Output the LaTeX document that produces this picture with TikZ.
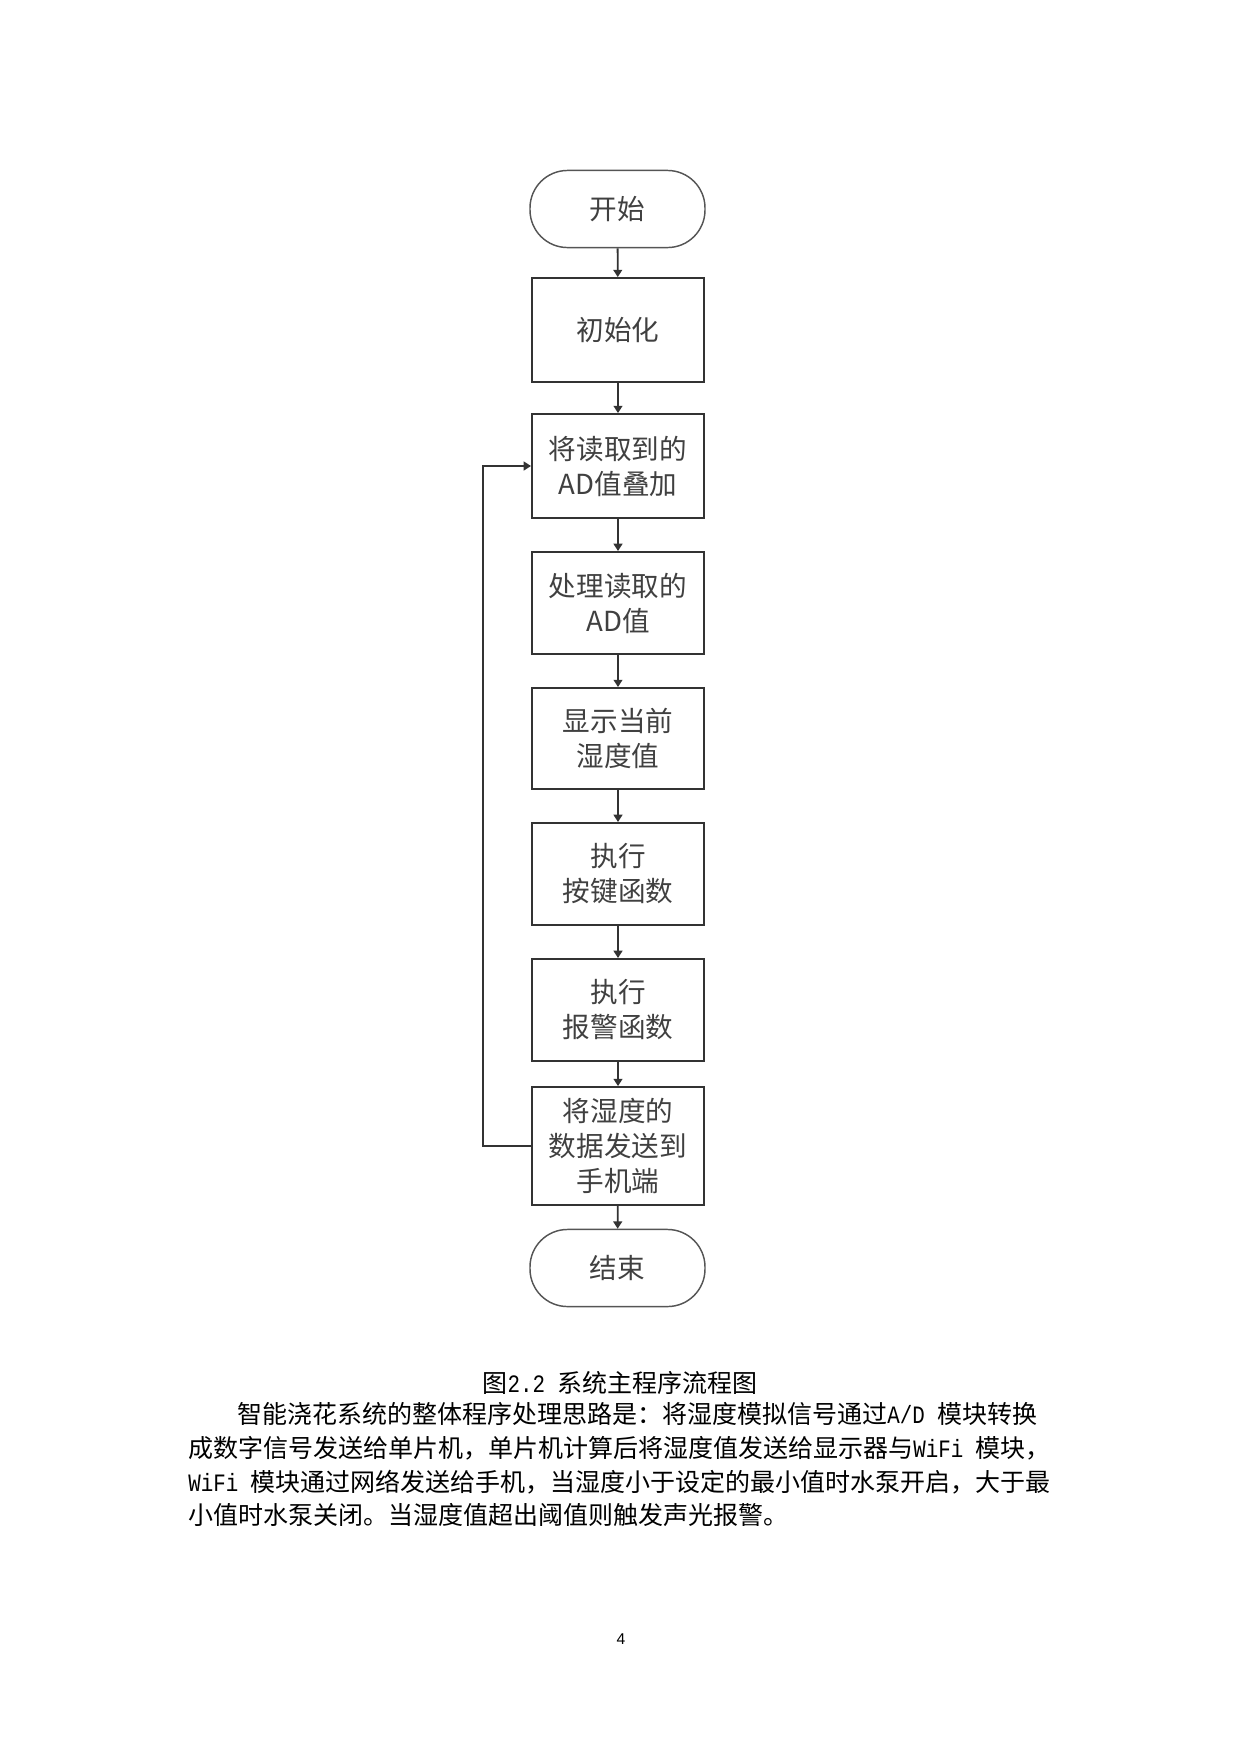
\documentclass[tikz,border=0pt]{standalone}
\usepackage{fontspec}
\setmainfont{Liberation Serif}
\newfontfamily\cjk{Noto Sans CJK SC}
\newfontfamily\lmono[FakeStretch=0.8333]{Liberation Mono}
\newfontfamily\pnum{Liberation Sans}
\usetikzlibrary{arrows.meta}
\definecolor{linec}{HTML}{333333}
\definecolor{termc}{HTML}{555555}
\definecolor{boxtext}{HTML}{404040}
\begin{document}
\begin{tikzpicture}[x=0.48pt,y=-0.48pt,
  box/.style={draw=linec,line width=0.9pt,minimum width=82.6pt,align=center,inner sep=0pt,
    font=\cjk\fontsize{13.25}{16.8}\selectfont,text=boxtext},
  term/.style={box,rounded corners=18pt,draw=termc,line width=0.7pt,minimum width=84pt,minimum height=37pt},
  arr/.style={draw=linec,line width=0.9pt,-{Triangle[length=3.5pt,width=4.2pt]}},
  body/.style={inner sep=0pt,font=\cjk\fontsize{12}{12}\selectfont,text=black}
]
\useasboundingbox (0,0) rectangle (1240,1754);

\node[term] (start) at (617.5,209) {开始};
\node[box,minimum height=49.9pt] (init) at (618,330) {初始化};
\node[box,minimum height=49.9pt] (b3) at (618,466) {将读取到的\\AD值叠加};
\node[box,minimum height=49pt] (b4) at (618,603) {处理读取的\\AD值};
\node[box,minimum height=48.5pt] (b5) at (618,738.5) {显示当前\\湿度值};
\node[box,minimum height=49pt] (b6) at (618,874) {执行\\按键函数};
\node[box,minimum height=49pt] (b7) at (618,1010) {执行\\报警函数};
\node[box,minimum height=56.6pt] (b8) at (618,1146) {将湿度的\\数据发送到\\手机端};
\node[term] (end) at (617.5,1268) {结束};

\draw[arr] (start) -- (init);
\draw[arr] (init) -- (b3);
\draw[arr] (b3) -- (b4);
\draw[arr] (b4) -- (b5);
\draw[arr] (b5) -- (b6);
\draw[arr] (b6) -- (b7);
\draw[arr] (b7) -- (b8);
\draw[arr] (b8) -- (end);
\coordinate (loop) at (483,1146);
\draw[arr] (b8.west) -- (loop) |- (b3.west);

\node[body] (cap) at (620,1383) {图{\lmono 2.2 }系统主程序流程图};
\node[body,anchor=west] (l1) at (237,1414) {智能浇花系统的整体程序处理思路是：将湿度模拟信号通过{\lmono A/D }模块转换};
\node[body,anchor=west] (l2) at (188,1448) {成数字信号发送给单片机，单片机计算后将湿度值发送给显示器与{\lmono WiFi }模块，};
\node[body,anchor=west] (l3) at (188,1482) {{\lmono WiFi }模块通过网络发送给手机，当湿度小于设定的最小值时水泵开启，大于最};
\node[body,anchor=west] (l4) at (188,1515) {小值时水泵关闭。当湿度值超出阈值则触发声光报警。};
\node[inner sep=0pt,font=\pnum\fontsize{7.5}{9}\selectfont] (pg) at (621,1639) {4};
\end{tikzpicture}
\end{document}
